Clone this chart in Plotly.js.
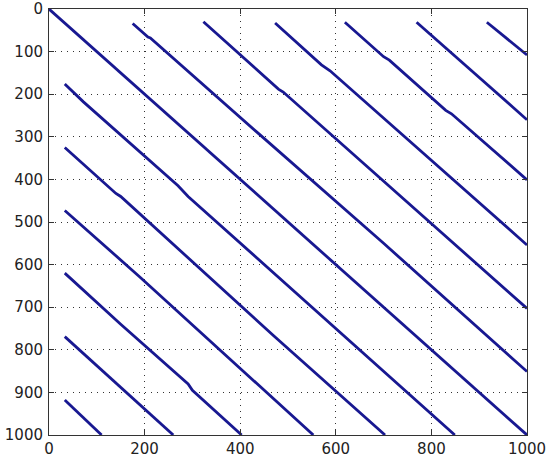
<!DOCTYPE html>
<html>
<head>
<meta charset="utf-8">
<script src="https://cdn.plot.ly/plotly-3.0.1.min.js"></script>
<style>
  html, body { margin: 0; padding: 0; background: #fff; }
  #plotID { width: 550px; height: 458px; }
</style>
</head>
<body>
<div id="plotID"></div>
<script>
// ========================= data =========================
// main diagonal
const mainX = [0, 1000];
const mainY = [0, 1000];

// lines that start at the top edge (above the diagonal)
const up1X = [175, 207, 212, 420, 438, 700, 1000];
const up1Y = [34, 66, 68, 276, 292, 550, 851];
const up2X = [323, 480, 490, 760, 1000];
const up2Y = [30, 188, 195, 463, 703];
const up3X = [473, 570, 588, 850, 1000];
const up3Y = [33, 131, 145, 406, 554];
const up4X = [619, 700, 712, 830, 842, 1000];
const up4Y = [31, 112, 120, 238, 246, 401];
const up5X = [769, 840, 850, 1000];
const up5Y = [31, 101, 110, 260];
const up6X = [916, 1000];
const up6Y = [31, 108];

// lines that start at the left edge (below the diagonal)
const low1X = [33, 65, 72, 270, 291, 849];
const low1Y = [176, 209, 218, 415, 440, 1000];
const low2X = [33, 140, 150, 470, 703];
const low2Y = [325, 433, 440, 767, 1000];
const low3X = [33, 180, 190, 553];
const low3Y = [473, 620, 629, 1000];
const low4X = [33, 150, 291, 300, 403];
const low4Y = [620, 740, 880, 895, 1000];
const low5X = [33, 120, 260];
const low5Y = [769, 857, 1000];
const low6X = [33, 110];
const low6Y = [918, 1000];

const xTicks = [0, 200, 400, 600, 800, 1000];
const yTicks = [0, 100, 200, 300, 400, 500, 600, 700, 800, 900, 1000];

// ========================= traces =====================================
const lineColor = "rgb(24,24,145)";
const allX = [mainX, up1X, up2X, up3X, up4X, up5X, up6X, low1X, low2X, low3X, low4X, low5X, low6X];
const allY = [mainY, up1Y, up2Y, up3Y, up4Y, up5Y, up6Y, low1Y, low2Y, low3Y, low4Y, low5Y, low6Y];

const chartData = allX.map((xs, i) => ({
  x: xs,
  y: allY[i],
  type: "scatter",
  mode: "lines",
  line: {color: lineColor, width: 2.8},
  hoverinfo: "skip",
  showlegend: false
}));

// ========================= layout =====================================
const axisCommon = {
  showline: true,
  linecolor: "#333",
  linewidth: 1,
  mirror: "ticks",
  ticks: "inside",
  ticklen: 5,
  tickcolor: "#333",
  showgrid: true,
  gridcolor: "#333",
  gridwidth: 1,
  griddash: "1px,5px",
  zeroline: false,
  tickfont: {family: "DejaVu Sans", size: 15, color: "#222"}
};

const chartLayout = {
  width: 550,
  height: 458,
  margin: {l: 49, r: 23, t: 9, b: 23},
  paper_bgcolor: "#fff",
  plot_bgcolor: "#fff",
  xaxis: Object.assign({}, axisCommon, {
    range: [0, 1000],
    tickvals: xTicks,
    ticklabelstandoff: 0
  }),
  yaxis: Object.assign({}, axisCommon, {
    range: [1000, 0],
    tickvals: yTicks,
    ticklabelstandoff: 2
  })
};

Plotly.newPlot("plotID", chartData, chartLayout, {staticPlot: true});
</script>
</body>
</html>
